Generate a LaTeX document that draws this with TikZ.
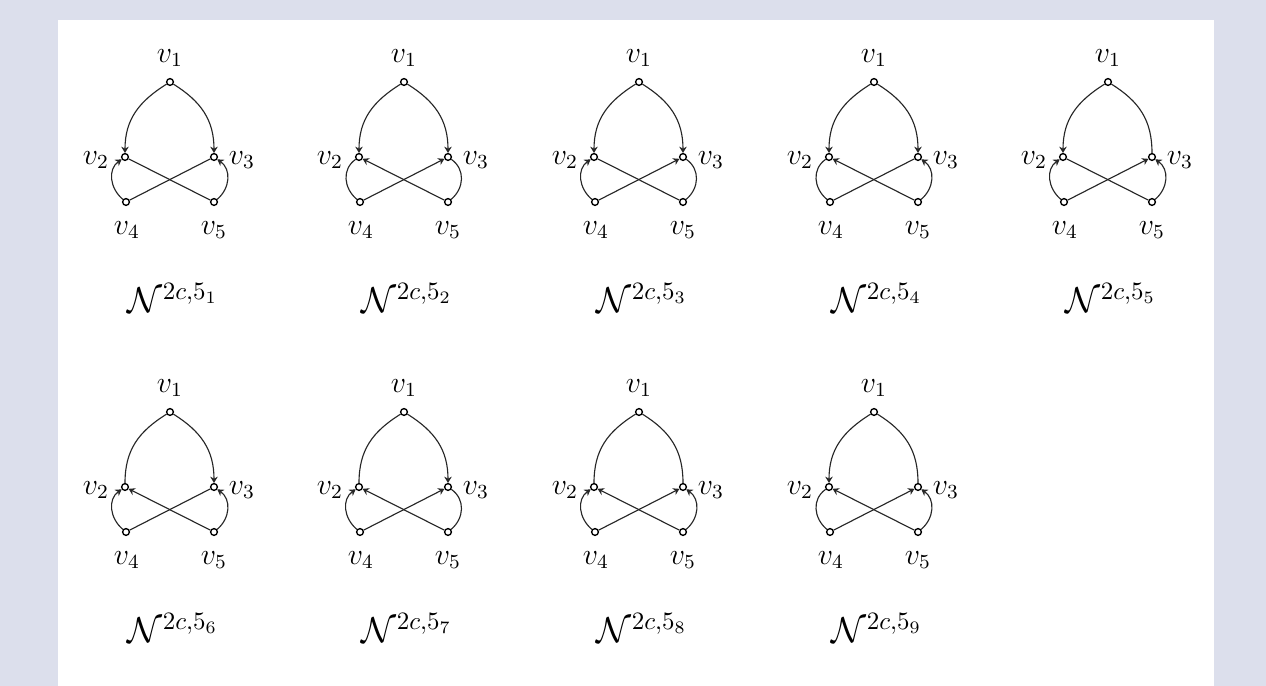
\documentclass[tikz,border=0pt]{standalone}
\usetikzlibrary{arrows.meta}
\definecolor{bgc}{RGB}{220,223,236}
\newcommand\gN[9]{%
 \begin{scope}[shift={(#1,{686-#2})}]
  \node[vtx] (a#3) at (0,0) {};
  \node[vtx] (b#3) at (-45,-75) {};
  \node[vtx] (c#3) at (44,-75) {};
  \node[vtx] (d#3) at (-44,-120) {};
  \node[vtx] (e#3) at (44,-120) {};
  \draw[#4] (a#3) to[out=212,in=90,looseness=1.05] (b#3);
  \draw[#5] (a#3) to[out=-32,in=90,looseness=1.05] (c#3);
  \draw[#6] (d#3) to[out=140,in=215,looseness=1.1] (b#3);
  \draw[#7] (e#3) -- (b#3);
  \draw[#8] (d#3) -- (c#3);
  \draw[#9] (e#3) to[out=40,in=-35,looseness=1.1] (c#3);
  \node[lbl] (la#3) at (0,24) {$v_1$};
  \node[lbl] (lb#3) at (-74,-78) {$v_2$};
  \node[lbl] (lc#3) at (72,-78) {$v_3$};
  \node[lbl] (ld#3) at (-43,-148) {$v_4$};
  \node[lbl] (le#3) at (44,-148) {$v_5$};
  \node[capt] (n#3) at (3,-216) {$\mathcal{N}^{2c,5_{#3}}$};
 \end{scope}}
\begin{document}
\begin{tikzpicture}[x=0.4pt,y=0.4pt,
  vtx/.style={circle,draw,line width=0.55pt,inner sep=0pt,minimum size=2.7pt},
  lbl/.style={inner sep=0pt,font=\fontsize{12}{14}\selectfont},
  capt/.style={inner sep=0pt,font=\fontsize{14}{16}\selectfont},
  edge/.style={line width=0.45pt,draw=black!85},
  arr/.style={line width=0.45pt,draw=black!85,-{Stealth[length=2.5pt,width=3pt]}}]
\fill[bgc] (0,0) rectangle (1266,686);
\fill[white] (58,0) rectangle (1214,666);
\useasboundingbox (0,0) rectangle (1266,686);
\gN{170}{82}{1}{arr}{arr}{arr}{edge}{edge}{arr}
\gN{404}{82}{2}{arr}{arr}{edge}{arr}{arr}{edge}
\gN{639}{82}{3}{arr}{arr}{arr}{edge}{arr}{edge}
\gN{874}{82}{4}{arr}{arr}{edge}{arr}{edge}{arr}
\gN{1108}{82}{5}{arr}{edge}{arr}{edge}{arr}{arr}
\gN{170}{412}{6}{edge}{arr}{arr}{arr}{edge}{arr}
\gN{404}{412}{7}{edge}{arr}{arr}{arr}{arr}{edge}
\gN{639}{412}{8}{edge}{edge}{arr}{arr}{arr}{arr}
\gN{874}{412}{9}{arr}{edge}{edge}{arr}{arr}{arr}
\end{tikzpicture}
\end{document}
